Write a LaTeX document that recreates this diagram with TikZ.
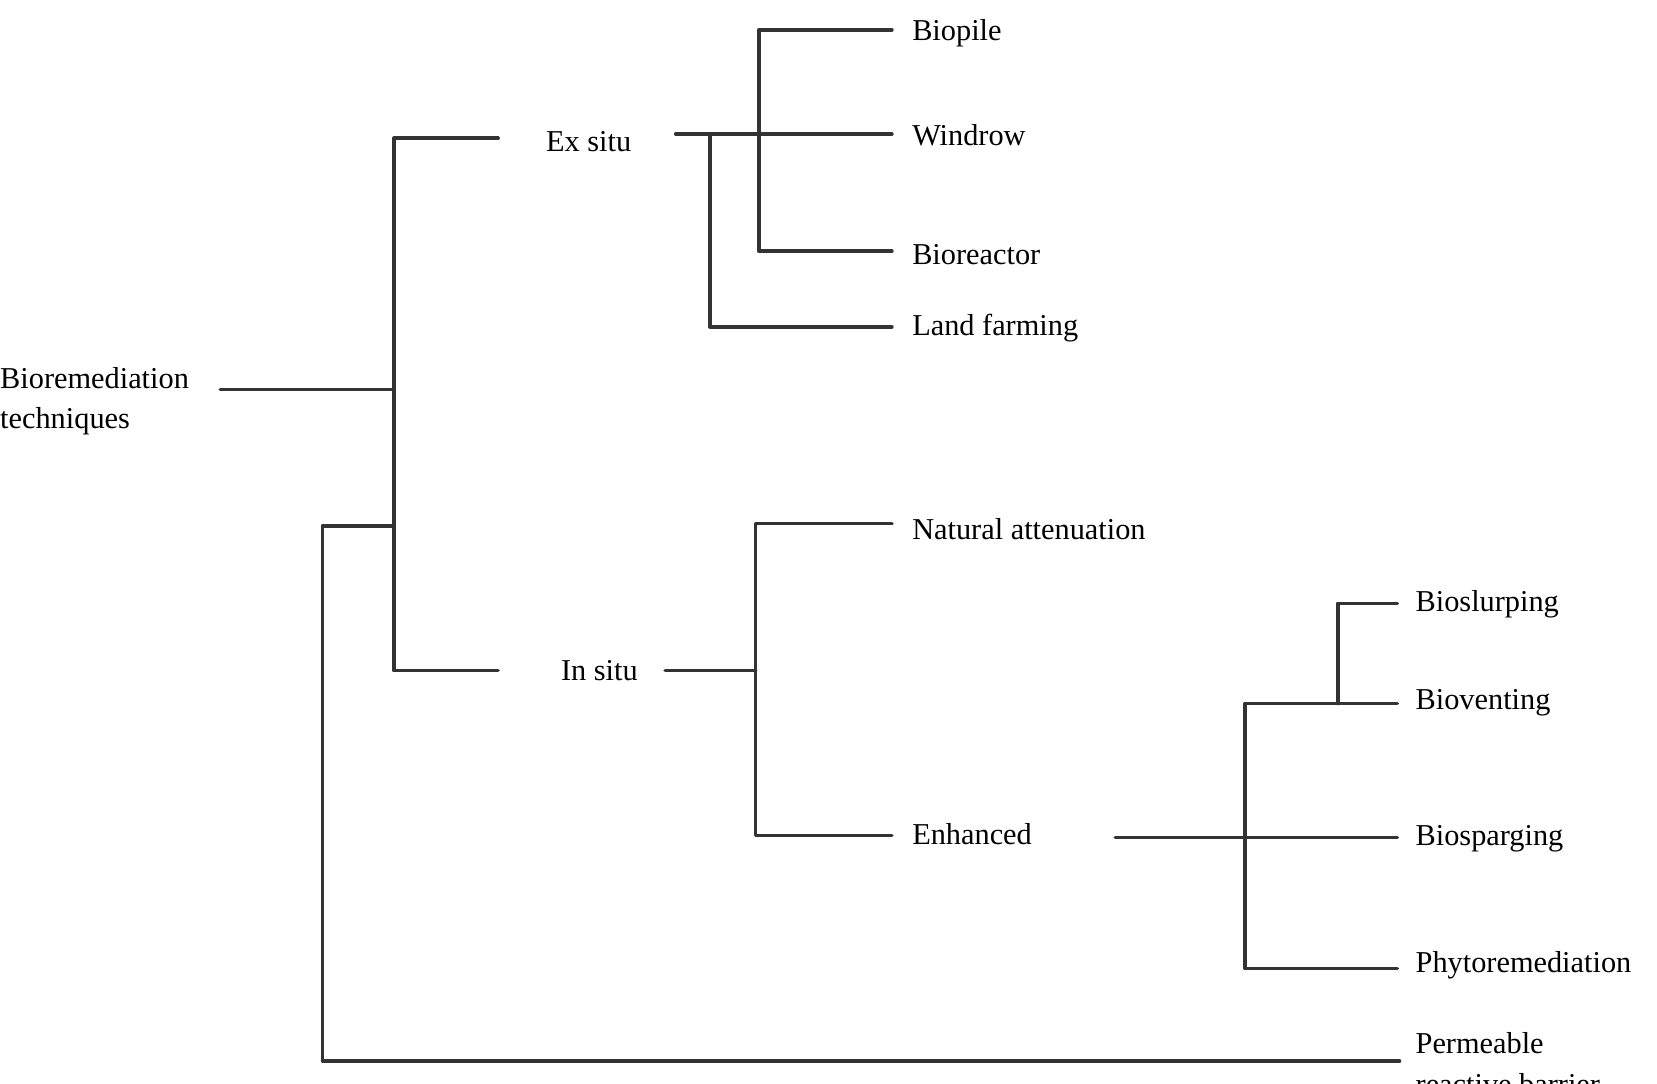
\documentclass[tikz,border=0pt]{standalone}
\usepackage{fontspec}
\setmainfont{Liberation Serif}
\begin{document}
\begin{tikzpicture}[x=1pt,y=-1pt,
  lbl/.style={anchor=west,inner sep=0pt,font=\fontsize{28.5}{38}\selectfont,text=black},
  br/.style={line width=3.5pt,draw=black!80,line cap=round,line join=round}]
\useasboundingbox (0,0) rectangle (1557,1018);
\clip (0,0) rectangle (1557,1018);
% labels
\node[lbl,align=left] (root) at (0,377) {Bioremediation\\techniques};
\node[lbl] (ex) at (513,133) {Ex situ};
\node[lbl] (in) at (527,630) {In situ};
\node[lbl] (bp) at (857,31) {Biopile};
\node[lbl] (wr) at (857,127) {Windrow};
\node[lbl] (brc) at (857,239) {Bioreactor};
\node[lbl] (lf) at (857,308) {Land farming};
\node[lbl] (na) at (857,497) {Natural attenuation};
\node[lbl] (en) at (857,784) {Enhanced};
\node[lbl] (bsl) at (1330,568) {Bioslurping};
\node[lbl] (bv) at (1330,660) {Bioventing};
\node[lbl] (bsp) at (1330,788) {Biosparging};
\node[lbl] (ph) at (1330,907) {Phytoremediation};
\node[lbl,align=left,anchor=north west] (prb) at (1330,970) {Permeable\\reactive barrier};
% tree
\draw[br] (207,366) -- (370,366);
\draw[br] (468,130) -- (370,130) -- (370,630) -- (468,630);
\draw[br] (370,494) -- (303,494) -- (303,997) -- (1315,997);
\draw[br] (635,126) -- (838,126);
\draw[br] (667,126) -- (667,307) -- (838,307);
\draw[br] (838,28) -- (713,28) -- (713,236) -- (838,236);
\draw[br] (625,630) -- (710,630);
\draw[br] (838,492) -- (710,492) -- (710,785) -- (838,785);
\draw[br] (1048,787) -- (1313,787);
\draw[br] (1313,661) -- (1170,661) -- (1170,910) -- (1313,910);
\draw[br] (1257,661) -- (1257,567) -- (1313,567);
\end{tikzpicture}
\end{document}
